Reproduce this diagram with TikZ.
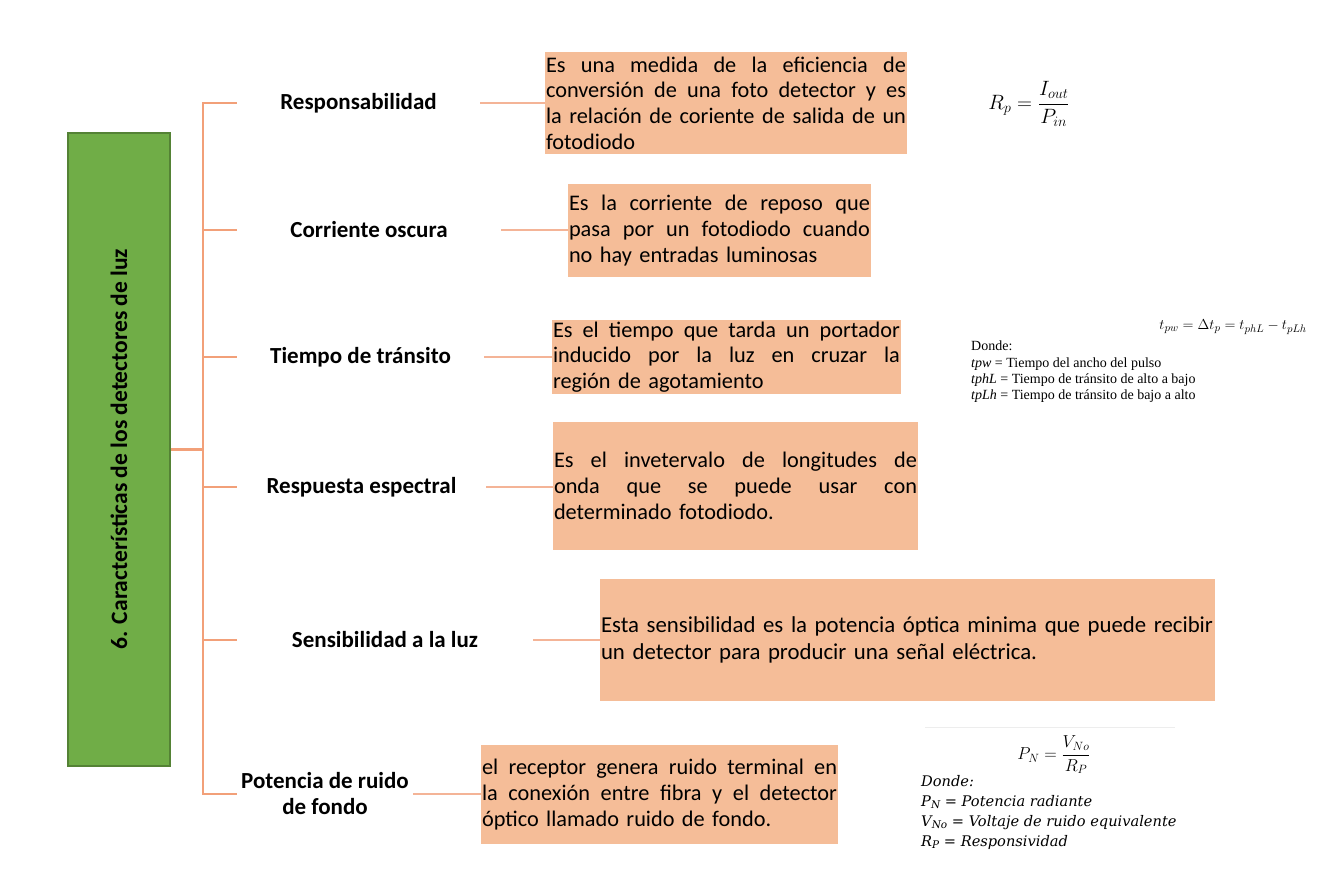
\documentclass[tikz,border=0pt]{standalone}
\usepackage{amsmath}
\usepackage{fontspec}
\setmainfont{Carlito}
\newfontfamily\tms{Liberation Serif}
\newfontfamily\dser{DejaVu Serif}
\usetikzlibrary{positioning,calc}
\definecolor{grfill}{HTML}{70AD47}
\definecolor{grline}{HTML}{548235}
\definecolor{boxfill}{HTML}{F5BD98}
\definecolor{brcol}{HTML}{F2A079}
\definecolor{cncol}{HTML}{F4B497}
\newcommand{\jl}[2]{\hbox to #1{\spaceskip=0pt\relax\xspaceskip=0pt\relax #2}\par}
\newcommand{\sbx}[1]{\raisebox{-0.35ex}{\fontsize{10.5}{11}\selectfont #1}}
\tikzset{
  lab/.style={font=\fontsize{23}{26}\selectfont\bfseries, align=center, inner sep=0pt, minimum height=20pt},
  descbox/.style={fill=boxfill, draw=none, inner xsep=1pt, inner ysep=0pt, align=left,
     font=\fontsize{22.3}{25.7}\selectfont, anchor=center},
  brline/.style={draw=brcol, line width=2.2pt},
  cnline/.style={draw=cncol, line width=1.4pt},
}
\begin{document}
\begin{tikzpicture}[x=1pt,y=-1pt]
\useasboundingbox (0,0) rectangle (1330,883);
\fill[white] (0,0) rectangle (1330,883);

% green title box
\node[draw=grline, line width=1.8pt, fill=grfill, minimum width=102pt, minimum height=633pt, inner sep=0pt] (title) at (119,449.5) {};
\node[rotate=90, font=\fontsize{23.5}{26}\selectfont\bfseries, inner sep=0pt] (titletext) at (119,449) {6. Características de los detectores de luz};

\coordinate (tr) at (203,449.5);

% labels
\node[lab, minimum width=243pt] (l1) at (358.5,103) {Responsabilidad};
\node[lab, minimum width=264pt] (l2) at (369,230) {Corriente oscura};
\node[lab, minimum width=247pt] (l3) at (360.5,357) {Tiempo de tránsito};
\node[lab, minimum width=249pt] (l4) at (361.5,487) {Respuesta espectral};
\node[lab, minimum width=296pt] (l5) at (385,640) {Sensibilidad a la luz};
\node[lab, minimum width=176pt] (l6) at (325,794) {Potencia de ruido\\de fondo};

% description boxes
\node[descbox, text width=360pt, minimum height=102pt] (b1) at (726,103) {%
\jl{360pt}{Es una medida de la eficiencia de}%
\jl{360pt}{conversión de una foto detector y es}%
\jl{360pt}{la relación de coriente de salida de un}%
fotodiodo};
\node[descbox, text width=301pt, minimum height=93pt] (b2) at (719.5,230.5) {%
\jl{301pt}{Es la corriente de reposo que}%
\jl{301pt}{pasa por un fotodiodo cuando}%
no hay entradas luminosas};
\node[descbox, text width=347pt, minimum height=74pt] (b3) at (726.5,357) {%
\jl{347pt}{Es el tiempo que tarda un portador}%
\jl{347pt}{inducido por la luz en cruzar la}%
región de agotamiento};
\node[descbox, text width=363pt, minimum height=128pt] (b4) at (735.5,486) {%
\jl{363pt}{Es el invetervalo de longitudes de}%
\jl{363pt}{onda que se puede usar con}%
determinado fotodiodo.};
\node[descbox, text width=613pt, minimum height=122pt, font=\fontsize{22.8}{26.5}\selectfont] (b5) at (907.5,640) {%
Esta sensibilidad es la potencia óptica minima que puede recibir\\
un detector para producir una señal eléctrica.};
\node[descbox, text width=355pt, minimum height=99pt] (b6) at (659.5,794.5) {%
\jl{355pt}{el receptor genera ruido terminal en}%
\jl{355pt}{la conexión entre fibra y el detector}%
óptico llamado ruido de fondo.};

% bracket
\draw[brline] (title.east) -- (tr);
\draw[brline, line join=miter] (l1.west) -- (l1.west -| tr) -- (l6.west -| tr) -- (l6.west);
\foreach \n in {l2,l3,l4,l5} \draw[brline] (\n.west -| tr) -- (\n.west);

% connectors
\foreach \a/\b in {l1/b1,l2/b2,l3/b3,l4/b4,l5/b5,l6/b6} \draw[cnline] (\a.east) -- (\a.east -| \b.west);

% formulas
\node[inner sep=0pt, font=\fontsize{22}{26}\selectfont] (f1) at (1029,104) {$R_p = \dfrac{I_{out}}{P_{in}}$};

\node[inner sep=0pt, font=\fontsize{15.3}{19}\selectfont, anchor=east] (f2) at (1307,327) {$t_{pw} = \Delta t_p = t_{phL} - t_{pLh}$};
\node[inner sep=0pt, anchor=north west, align=left, font=\tms\fontsize{14}{16.3}\selectfont] (f2d) at (971,341) {%
Donde:\\
\textit{tpw} = Tiempo del ancho del pulso\\
\textit{tphL} = Tiempo de tránsito de alto a bajo\\
\textit{tpLh} = Tiempo de tránsito de bajo a alto};

\draw[draw=black!7, line width=0.8pt] (925,727) -- (1175,727);
\node[inner sep=0pt, font=\fontsize{17}{20}\selectfont] (f3) at (1054,755) {$P_N = \dfrac{V_{No}}{R_P}$};
\node[inner sep=0pt, anchor=north west, align=left, font=\dser\itshape\fontsize{14.6}{20}\selectfont] (f3d) at (921,775) {%
Donde:\\
P\sbx{N} = Potencia radiante\\
V\sbx{No} = Voltaje de ruido equivalente\\
R\sbx{P} = Responsividad};
\end{tikzpicture}
\end{document}
